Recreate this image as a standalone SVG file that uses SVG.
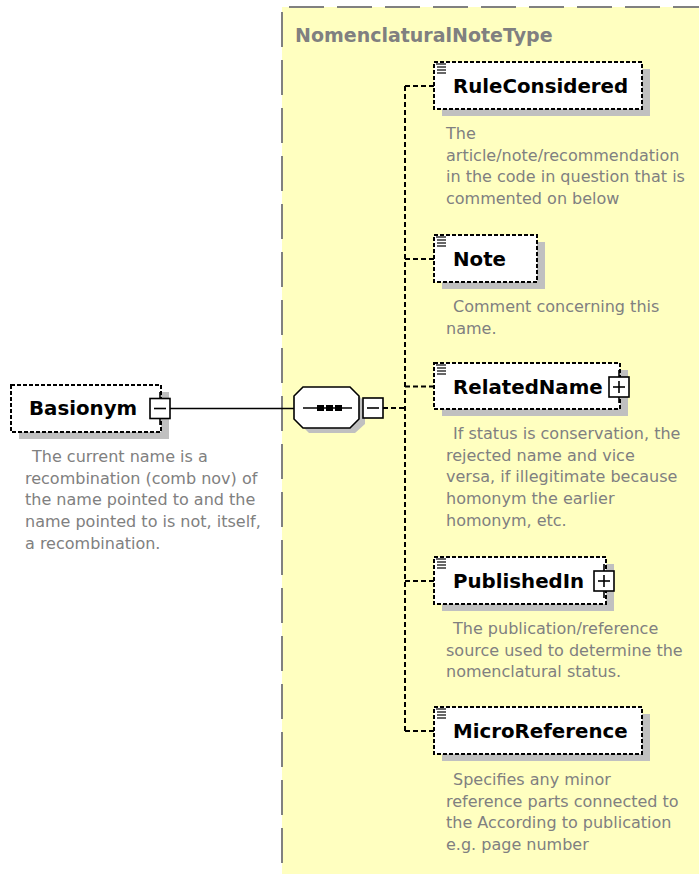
<svg xmlns="http://www.w3.org/2000/svg" width="699" height="874" viewBox="0 0 699 874">
<style>
  .box { fill: #ffffff; stroke: #000000; stroke-width: 2; stroke-dasharray: 4 2; }
  .shadow { fill: #c0c0c0; stroke: none; }
  .name { font-family: "DejaVu Sans", Verdana, sans-serif; font-weight: bold; font-size: 19.8px; fill: #000000; }
  .desc { font-family: "DejaVu Sans", Verdana, sans-serif; font-size: 16px; fill: #808080; }
  .title { font-family: "DejaVu Sans", Verdana, sans-serif; font-weight: bold; font-size: 19px; fill: #808080; }
  .dash { fill: none; stroke: #000000; stroke-width: 2; stroke-dasharray: 5 3; }
  .solid { fill: none; stroke: #000000; stroke-width: 1.6; }
  .btn { fill: #ffffff; stroke: #000000; stroke-width: 1.6; }
  .icon { stroke: #000000; stroke-width: 1.2; }
  .frame { fill: none; stroke: #808080; stroke-width: 2; stroke-dasharray: 35 13; }
</style>

<g id="NomenclaturalNoteType">
  <rect x="282" y="7" width="430" height="880" fill="#ffffc0"/>
  <line class="frame" x1="283" y1="7" x2="699" y2="7" stroke-dashoffset="42"/>
  <line class="frame" x1="282" y1="12" x2="282" y2="874"/>
  <text class="title" x="295" y="42">NomenclaturalNoteType</text>
</g>

<g id="connectors">
  <line class="solid" x1="170" y1="408.5" x2="294" y2="408.5"/>
  <line class="dash" x1="383" y1="408" x2="405" y2="408"/>
  <line class="dash" x1="405" y1="86" x2="405" y2="731"/>
  <line class="dash" x1="405" y1="86" x2="434" y2="86"/>
  <line class="dash" x1="405" y1="259" x2="434" y2="259"/>
  <line class="dash" x1="405" y1="386.5" x2="434" y2="386.5"/>
  <line class="dash" x1="405" y1="581" x2="434" y2="581"/>
  <line class="dash" x1="405" y1="731" x2="434" y2="731"/>
</g>

<g id="Basionym">
  <rect class="shadow" x="19" y="392" width="150" height="47"/>
  <rect class="box" x="11" y="385" width="150" height="47"/>
  <text class="name" x="29" y="415">Basionym</text>
  <line class="solid" x1="160" y1="392" x2="160" y2="425"/>
  <rect class="btn" x="150" y="398.5" width="20" height="20"/>
  <line class="solid" x1="154" y1="408.5" x2="166" y2="408.5"/>
  <text class="desc">
    <tspan x="32" y="462">The current name is a</tspan>
    <tspan x="25" y="483.7">recombination (comb nov) of</tspan>
    <tspan x="25" y="505.4">the name pointed to and the</tspan>
    <tspan x="25" y="527.1">name pointed to is not, itself,</tspan>
    <tspan x="25" y="548.8">a recombination.</tspan>
  </text>
</g>

<g id="sequence">
  <polygon class="shadow" points="309,392 355,392 365,402 365,424 355,433 309,433 300,424 300,402"/>
  <polygon points="303,387 350,387 359,396 359,419 350,428 303,428 294,419 294,396" fill="#ffffff" stroke="#000000" stroke-width="1.6"/>
  <line class="solid" x1="303" y1="408" x2="352" y2="408"/>
  <rect x="317" y="405" width="7" height="6" fill="#000000"/>
  <rect x="326" y="405" width="7" height="6" fill="#000000"/>
  <rect x="335" y="405" width="7" height="6" fill="#000000"/>
  <rect class="btn" x="363" y="398" width="20" height="20"/>
  <line class="solid" x1="367" y1="408" x2="379" y2="408"/>
</g>

<g id="RuleConsidered">
  <rect class="shadow" x="442" y="69" width="208" height="47"/>
  <rect class="box" x="434" y="62" width="208" height="47"/>
  <g class="icon"><line x1="436" y1="64" x2="446" y2="64"/><line x1="437" y1="67" x2="446" y2="67"/><line x1="437" y1="70" x2="446" y2="70"/><line x1="437" y1="73" x2="446" y2="73"/></g>
  <text class="name" x="453" y="93">RuleConsidered</text>
  <text class="desc">
    <tspan x="446" y="139">The</tspan>
    <tspan x="446" y="160.7">article/note/recommendation</tspan>
    <tspan x="446" y="182.4">in the code in question that is</tspan>
    <tspan x="446" y="204.1">commented on below</tspan>
  </text>
</g>

<g id="Note">
  <rect class="shadow" x="442" y="242" width="103" height="47"/>
  <rect class="box" x="434" y="235" width="103" height="47"/>
  <g class="icon"><line x1="436" y1="237" x2="446" y2="237"/><line x1="437" y1="240" x2="446" y2="240"/><line x1="437" y1="243" x2="446" y2="243"/><line x1="437" y1="246" x2="446" y2="246"/></g>
  <text class="name" x="453" y="266">Note</text>
  <text class="desc">
    <tspan x="453" y="312">Comment concerning this</tspan>
    <tspan x="446" y="333.7">name.</tspan>
  </text>
</g>

<g id="RelatedName">
  <rect class="shadow" x="442" y="370" width="186" height="46"/>
  <rect class="box" x="434" y="363" width="186" height="46"/>
  <g class="icon"><line x1="436" y1="365" x2="446" y2="365"/><line x1="437" y1="368" x2="446" y2="368"/><line x1="437" y1="371" x2="446" y2="371"/><line x1="437" y1="374" x2="446" y2="374"/></g>
  <text class="name" x="453" y="394">RelatedName</text>
  <line class="solid" x1="619" y1="370" x2="619" y2="403"/>
  <rect class="btn" x="609" y="377" width="20" height="20"/>
  <line class="solid" x1="613" y1="387" x2="625" y2="387"/>
  <line class="solid" x1="619" y1="381" x2="619" y2="393"/>
  <text class="desc">
    <tspan x="453" y="439">If status is conservation, the</tspan>
    <tspan x="446" y="460.7">rejected name and vice</tspan>
    <tspan x="446" y="482.4">versa, if illegitimate because</tspan>
    <tspan x="446" y="504.1">homonym the earlier</tspan>
    <tspan x="446" y="525.8">homonym, etc.</tspan>
  </text>
</g>

<g id="PublishedIn">
  <rect class="shadow" x="442" y="564" width="172" height="47"/>
  <rect class="box" x="434" y="557" width="172" height="47"/>
  <g class="icon"><line x1="436" y1="559" x2="446" y2="559"/><line x1="437" y1="562" x2="446" y2="562"/><line x1="437" y1="565" x2="446" y2="565"/><line x1="437" y1="568" x2="446" y2="568"/></g>
  <text class="name" x="453" y="588">PublishedIn</text>
  <line class="solid" x1="604" y1="564" x2="604" y2="598"/>
  <rect class="btn" x="594" y="571" width="20" height="20"/>
  <line class="solid" x1="598" y1="581" x2="610" y2="581"/>
  <line class="solid" x1="604" y1="575" x2="604" y2="587"/>
  <text class="desc">
    <tspan x="453" y="634">The publication/reference</tspan>
    <tspan x="446" y="655.7">source used to determine the</tspan>
    <tspan x="446" y="677.4">nomenclatural status.</tspan>
  </text>
</g>

<g id="MicroReference">
  <rect class="shadow" x="442" y="714" width="208" height="47"/>
  <rect class="box" x="434" y="707" width="208" height="47"/>
  <g class="icon"><line x1="436" y1="709" x2="446" y2="709"/><line x1="437" y1="712" x2="446" y2="712"/><line x1="437" y1="715" x2="446" y2="715"/><line x1="437" y1="718" x2="446" y2="718"/></g>
  <text class="name" x="453" y="738">MicroReference</text>
  <text class="desc">
    <tspan x="453" y="785">Specifies any minor</tspan>
    <tspan x="446" y="806.7">reference parts connected to</tspan>
    <tspan x="446" y="828.4">the According to publication</tspan>
    <tspan x="446" y="850.1">e.g. page number</tspan>
  </text>
</g>
</svg>
